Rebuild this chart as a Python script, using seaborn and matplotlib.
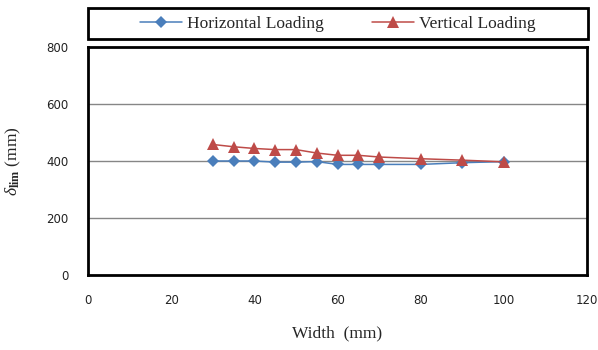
import matplotlib
matplotlib.use("Agg")
import matplotlib.pyplot as plt
import matplotlib.patches as mpatches
import seaborn as sns
import pandas as pd

widths = [30, 35, 40, 45, 50, 55, 60, 65, 70, 80, 90, 100]
horizontal = [400, 400, 400, 396, 396, 398, 388, 388, 388, 388, 394, 398]
vertical = [458, 450, 444, 440, 440, 428, 420, 420, 414, 408, 403, 397]
series_names = ["Horizontal Loading", "Vertical Loading"]
x_ticks = [0, 20, 40, 60, 80, 100, 120]
y_ticks = [0, 200, 400, 600, 800]

df = pd.DataFrame({
    "Width": widths * 2,
    "delta": horizontal + vertical,
    "Series": [series_names[0]] * len(widths) + [series_names[1]] * len(widths),
})

sns.set_theme(style="white")
plt.rcParams["font.family"] = ["Liberation Serif", "DejaVu Serif"]
plt.rcParams["mathtext.fontset"] = "custom"
plt.rcParams["mathtext.rm"] = "Liberation Serif"
plt.rcParams["mathtext.it"] = "Liberation Serif:italic"
plt.rcParams["mathtext.bf"] = "Liberation Serif:bold"

fig = plt.figure(figsize=(5.98, 3.5), dpi=100)
ax = fig.add_axes([88 / 598, 75 / 350, 499 / 598, 228 / 350])

palette = {series_names[0]: "#4a7ebb", series_names[1]: "#be4b48"}
markers = {series_names[0]: "D", series_names[1]: "^"}
sns.lineplot(data=df, x="Width", y="delta", hue="Series", style="Series",
             markers=markers, dashes=False, palette=palette, ax=ax,
             linewidth=1.1, markersize=6.5, markeredgewidth=0, legend=True)
for line in ax.get_lines():
    if line.get_marker() == "^":
        line.set_markersize(8.5)
    elif line.get_marker() == "D":
        line.set_markersize(6.5)

ax.set_xlim(0, 120)
ax.set_ylim(0, 800)
ax.set_xticks(x_ticks)
ax.set_yticks(y_ticks)
for y in y_ticks[1:-1]:
    ax.axhline(y, color="#868686", linewidth=1.0, zorder=0)
for s in ax.spines.values():
    s.set_visible(True)
    s.set_color("black")
    s.set_linewidth(2.0)
ax.tick_params(axis="both", length=0, labelsize=8.5, labelcolor="#222222")
for lab in ax.get_xticklabels() + ax.get_yticklabels():
    lab.set_family(["DejaVu Sans"])
ax.tick_params(axis="y", pad=14)
ax.tick_params(axis="x", pad=14)

ax.set_xlabel("Width  (mm)", fontsize=12.5, labelpad=13)
ax.set_ylabel(r"$\delta_{\mathbf{lim}}$ (mm)", fontsize=12.5, labelpad=17)

handles, labels = ax.get_legend_handles_labels()
ax.get_legend().remove()

# legend frame
box = mpatches.Rectangle((88 / 598, 1 - 39 / 350), 500 / 598, 31 / 350,
                         transform=fig.transFigure, fill=False,
                         edgecolor="black", linewidth=2.0)
fig.add_artist(box)
leg = fig.legend(handles, labels, loc="center",
                 bbox_to_anchor=(338 / 598, 1 - 23.5 / 350),
                 ncol=2, frameon=False, fontsize=12.5,
                 handlelength=2.4, handletextpad=0.3, columnspacing=2.8,
                 borderaxespad=0, borderpad=0)

fig.savefig("out.png", dpi=100)
